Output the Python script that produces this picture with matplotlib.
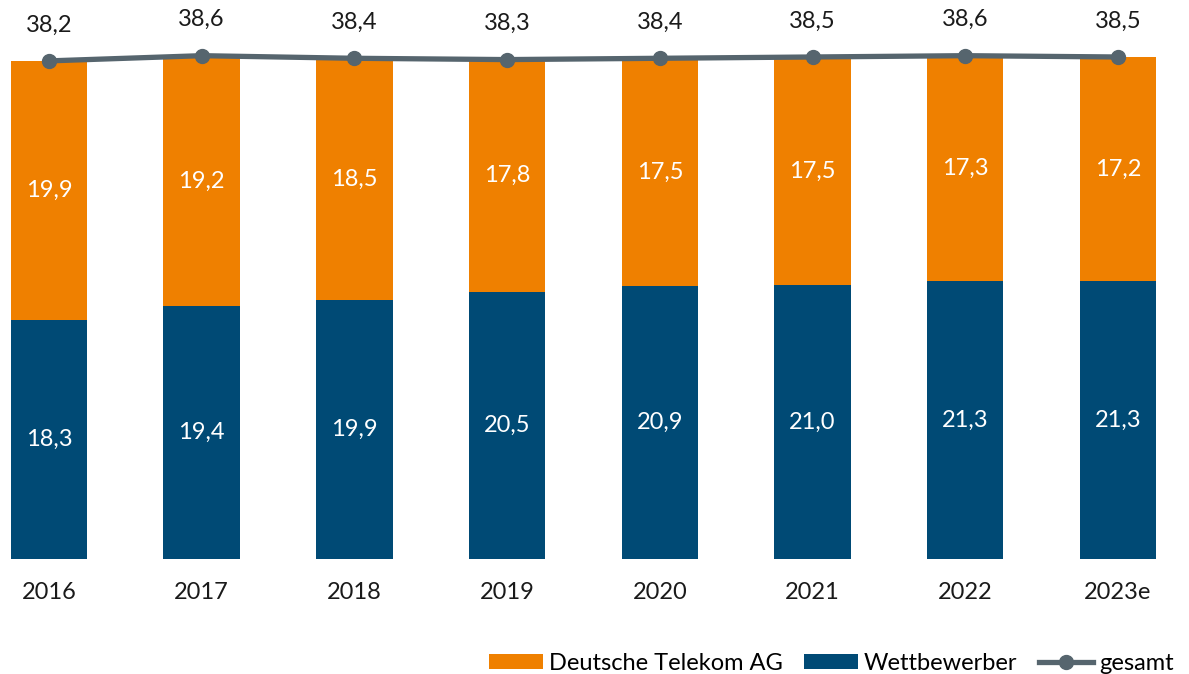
import matplotlib
matplotlib.use("Agg")
import matplotlib.pyplot as plt
import numpy as np

years = ["2016", "2017", "2018", "2019", "2020", "2021", "2022", "2023e"]
telekom = [19.9, 19.2, 18.5, 17.8, 17.5, 17.5, 17.3, 17.2]
wettbewerber = [18.3, 19.4, 19.9, 20.5, 20.9, 21.0, 21.3, 21.3]
gesamt = [38.2, 38.6, 38.4, 38.3, 38.4, 38.5, 38.6, 38.5]

c_orange = "#EF8000"
c_blue = "#004A75"
c_grey = "#56656E"

plt.rcParams['font.family'] = ['Lato', 'DejaVu Sans']

def fmt(v):
    return f"{v:.1f}".replace(".", ",")

fig = plt.figure(figsize=(11.89, 6.74), dpi=100)
ax = fig.add_axes([0, 0, 1, 1])

x = np.arange(len(years))
b1 = ax.bar(x, wettbewerber, width=0.5, color=c_blue, label="Wettbewerber")
b2 = ax.bar(x, telekom, width=0.5, bottom=wettbewerber, color=c_orange, label="Deutsche Telekom AG")
ln, = ax.plot(x, gesamt, color=c_grey, lw=3.8, marker="o", markersize=10, label="gesamt")

for i in range(len(years)):
    ax.text(x[i], wettbewerber[i] / 2, fmt(wettbewerber[i]), color="white",
            ha="center", va="center", fontsize=17)
    ax.text(x[i], wettbewerber[i] + telekom[i] / 2, fmt(telekom[i]), color="white",
            ha="center", va="center", fontsize=17)
    ax.text(x[i], gesamt[i] + 2.75, fmt(gesamt[i]), color="#1a1a1a",
            ha="center", va="center", fontsize=17)
    ax.text(x[i], -2.6, years[i], color="#1a1a1a", ha="center", va="center", fontsize=17)

ax.set_xlim(-0.32, 7.465)
ax.set_ylim(-8.82, 42.87)
ax.axis("off")

fig.legend([b2, b1, ln], ["Deutsche Telekom AG", "Wettbewerber", "gesamt"], loc="lower right",
           bbox_to_anchor=(1.005, -0.032), ncol=3, frameon=False, fontsize=17,
           handlelength=2.3, handleheight=0.6, handletextpad=0.25, columnspacing=0.9)

fig.savefig("out.png", dpi=100)
